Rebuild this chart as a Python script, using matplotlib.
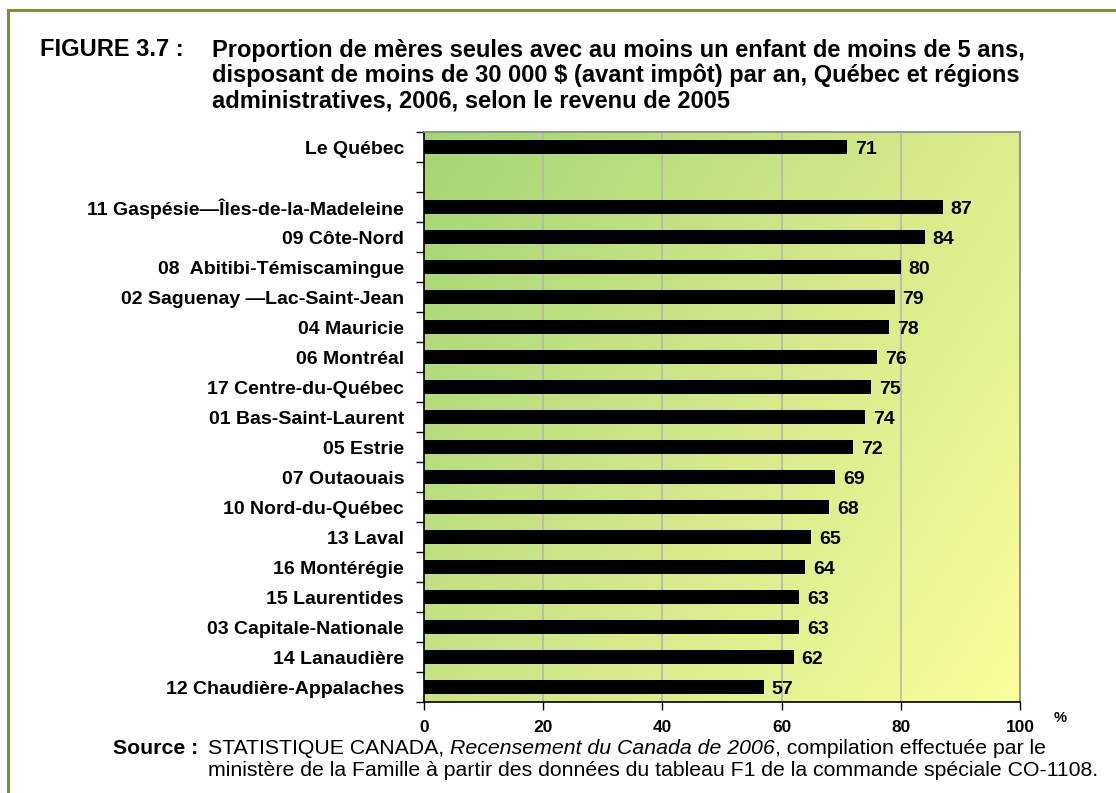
import numpy as np
import matplotlib
matplotlib.use("Agg")
import matplotlib.pyplot as plt
from matplotlib.lines import Line2D
from matplotlib.colors import LinearSegmentedColormap

categories = [
    "Le Québec",
    "",
    "11 Gaspésie—Îles-de-la-Madeleine",
    "09 Côte-Nord",
    "08  Abitibi-Témiscamingue",
    "02 Saguenay —Lac-Saint-Jean",
    "04 Mauricie",
    "06 Montréal",
    "17 Centre-du-Québec",
    "01 Bas-Saint-Laurent",
    "05 Estrie",
    "07 Outaouais",
    "10 Nord-du-Québec",
    "13 Laval",
    "16 Montérégie",
    "15 Laurentides",
    "03 Capitale-Nationale",
    "14 Lanaudière",
    "12 Chaudière-Appalaches",
]
values = [71, None, 87, 84, 80, 79, 78, 76, 75, 74, 72, 69, 68, 65, 64, 63, 63, 62, 57]
xticks = [0, 20, 40, 60, 80, 100]

plt.rcParams['font.family'] = ['Liberation Sans', 'DejaVu Sans']

W, H = 1116, 793
fig = plt.figure(figsize=(W / 100, H / 100), dpi=100)
fig.patch.set_facecolor("white")

ax = fig.add_axes([424 / W, 1 - 702 / H, (1020 - 424) / W, (702 - 132) / H])

n = len(categories)
ax.set_xlim(0, 100)
ax.set_ylim(n - 0.5, -0.5)

# gradient background
gx, gy = np.meshgrid(np.linspace(0, 1, 300), np.linspace(0, 1, 300))
grad = (gx * 0.62 + gy * 0.38)
cmap = LinearSegmentedColormap.from_list("g", ["#a4d574", "#d3e88a", "#fbfd9c"])
ax.imshow(grad, extent=[0, 100, n - 0.5, -0.5], aspect="auto", cmap=cmap,
          zorder=0, interpolation="bilinear")

for x in xticks[1:-1]:
    ax.axvline(x, color="#b5b5b5", lw=1.2, zorder=1)

ypos = [i for i, v in enumerate(values) if v is not None]
vals = [v for v in values if v is not None]
ax.barh(ypos, vals, height=0.44, color="black", zorder=3)
for y, v in zip(ypos, vals):
    ax.text(v + 1.3, y + 0.08, f"{v}", va="center", ha="left",
            fontsize=14, fontweight="bold", zorder=4)

ax.set_yticks(range(n))
ax.set_yticklabels(categories, fontsize=14, fontweight="bold")
ax.tick_params(axis="y", which="major", length=0, pad=14.4)
ax.set_yticks(np.arange(-0.5, n, 1.0), minor=True)
ax.tick_params(axis="y", which="minor", length=6, width=1, direction="out")

ax.set_xticks(xticks)
ax.set_xticklabels([str(t) for t in xticks], fontsize=12.5, fontweight="bold")
ax.tick_params(axis="x", length=6, width=1, direction="out", pad=7)

for s in ["top", "right"]:
    ax.spines[s].set_color("#8c8c8c")
    ax.spines[s].set_linewidth(1.3)
for s in ["left", "bottom"]:
    ax.spines[s].set_color("black")
    ax.spines[s].set_linewidth(1.2)

fig.text(1060 / W, 1 - 718 / H, "%", fontsize=10.5, fontweight="bold",
         ha="center", va="center")

# title
title_lines = [
    "Proportion de mères seules avec au moins un enfant de moins de 5 ans,",
    "disposant de moins de 30 000 $ (avant impôt) par an, Québec et régions",
    "administratives, 2006, selon le revenu de 2005",
]
fig.text(40 / W, 1 - 50 / H, "FIGURE 3.7 :", fontsize=17, fontweight="bold",
         ha="left", va="center")
for i, line in enumerate(title_lines):
    fig.text(212 / W, 1 - (50 + 25.5 * i) / H, line, fontsize=17,
             fontweight="bold", ha="left", va="center")

# source
fs = 15.3
fig.text(113 / W, 1 - 748 / H, "Source :", fontsize=fs, fontweight="bold",
         ha="left", va="center")
t1 = fig.text(208 / W, 1 - 748 / H, "STATISTIQUE CANADA, ",
              fontsize=fs, ha="left", va="center")
t2 = fig.add_artist(plt.Annotation("Recensement du Canada de 2006", xy=(1, 0),
                                   xycoords=t1, ha="left", va="bottom",
                                   fontsize=fs, style="italic"))
t3 = fig.add_artist(plt.Annotation(", compilation effectuée par le", xy=(1, 0),
                                   xycoords=t2, ha="left", va="bottom",
                                   fontsize=fs))
fig.text(208 / W, 1 - 771 / H,
         "ministère de la Famille à partir des données du tableau F1 de la commande spéciale CO-1108.",
         fontsize=fs, ha="left", va="center")

# border
bc = "#77933c"
fig.add_artist(Line2D([8 / W, 8 / W], [0, 1 - 10 / H], color=bc, lw=2.2,
                      transform=fig.transFigure))
fig.add_artist(Line2D([8 / W, 1], [1 - 10 / H, 1 - 10 / H], color=bc, lw=2.2,
                      transform=fig.transFigure))

fig.savefig("out.png", dpi=100, facecolor="white")
